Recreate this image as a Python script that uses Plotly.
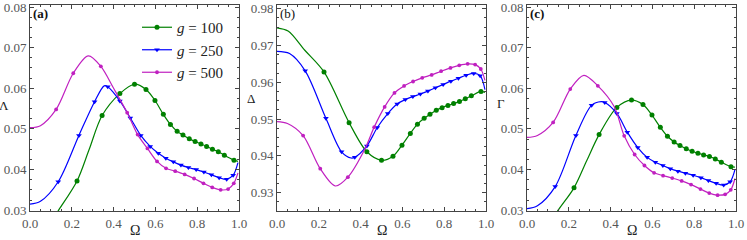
import plotly.graph_objects as go

# ---------------- data ----------------
G_LABELS = ["<i>g</i> = 100", "<i>g</i> = 250", "<i>g</i> = 500"]
COLORS = ["#008000", "#0000ff", "#c020c0"]
SYMBOLS = ["circle", "triangle-down", "circle"]
MSIZES = [5, 5, 3.8]

# marker abscissae (shared by the three panels)
MK_OMEGA_100 = [0.225, 0.345, 0.430, 0.500, 0.555, 0.598, 0.638, 0.672, 0.704, 0.732,
                0.762, 0.790, 0.818, 0.845, 0.873, 0.901, 0.930, 0.976]
MK_OMEGA_250 = [0.135, 0.234, 0.309, 0.372, 0.430, 0.480, 0.530, 0.575, 0.614, 0.650,
                0.686, 0.722, 0.758, 0.795, 0.832, 0.868, 0.905, 0.941, 0.972]
MK_OMEGA_500 = [0.125, 0.207, 0.339, 0.465, 0.515, 0.562, 0.608, 0.651, 0.695, 0.740,
                0.785, 0.830, 0.872, 0.912, 0.948, 0.975]

# panel (a): Lambda
A_MK_100 = [0.0372, 0.0533, 0.0587, 0.0610, 0.0597, 0.0570, 0.0536, 0.0511, 0.0494, 0.0485,
            0.0476, 0.0469, 0.0463, 0.0457, 0.0450, 0.0444, 0.0435, 0.0423]
A_MK_250 = [0.0370, 0.0484, 0.0567, 0.0604, 0.0569, 0.0527, 0.0484, 0.0457, 0.0440, 0.0428,
            0.0419, 0.0411, 0.0405, 0.0400, 0.0394, 0.0387, 0.0380, 0.0376, 0.0386]
A_MK_500 = [0.0548, 0.0637, 0.0654, 0.0540, 0.0486, 0.0452, 0.0420, 0.0403, 0.0396, 0.0388,
            0.0378, 0.0366, 0.0356, 0.0350, 0.0352, 0.0366]
A_EXTRA_100 = ([0.100, 0.137, 0.282, 0.995], [0.0270, 0.0300, 0.0448, 0.0420])
A_EXTRA_250 = ([0.0, 0.05, 0.355, 0.995], [0.0315, 0.0322, 0.0606, 0.0417])
A_EXTRA_500 = ([0.0, 0.05, 0.279, 0.400, 0.995], [0.0503, 0.0508, 0.0680, 0.0600, 0.0392])

# panel (b): Delta
B_MK_100 = [0.9628, 0.9490, 0.9411, 0.9388, 0.9399, 0.9429, 0.9461, 0.9486, 0.9502, 0.9513,
            0.9524, 0.9531, 0.9537, 0.9542, 0.9548, 0.9555, 0.9563, 0.9575]
B_MK_250 = [0.9631, 0.9502, 0.9411, 0.9396, 0.9427, 0.9477, 0.9515, 0.9541, 0.9553, 0.9561,
            0.9568, 0.9576, 0.9585, 0.9594, 0.9603, 0.9611, 0.9619, 0.9624, 0.9618]
B_MK_500 = [0.9455, 0.9365, 0.9342, 0.9478, 0.9533, 0.9571, 0.9590, 0.9602, 0.9612, 0.9620,
            0.9630, 0.9639, 0.9646, 0.9650, 0.9648, 0.9636]
B_EXTRA_100 = ([0.0, 0.053, 0.133, 0.995], [0.9748, 0.9739, 0.9687, 0.9572])
B_EXTRA_250 = ([0.0, 0.06, 0.355, 0.995], [0.9684, 0.9678, 0.9394, 0.9580])
B_EXTRA_500 = ([0.0, 0.05, 0.280, 0.420, 0.995], [0.9493, 0.9488, 0.9318, 0.9418, 0.9605])

# panel (c): Gamma
C_MK_100 = [0.0355, 0.0486, 0.0553, 0.0571, 0.0560, 0.0534, 0.0504, 0.0482, 0.0468, 0.0459,
            0.0451, 0.0445, 0.0440, 0.0436, 0.0432, 0.0426, 0.0418, 0.0407]
C_MK_250 = [0.0358, 0.0484, 0.0558, 0.0565, 0.0538, 0.0492, 0.0454, 0.0430, 0.0418, 0.0410,
            0.0402, 0.0396, 0.0391, 0.0386, 0.0380, 0.0373, 0.0366, 0.0362, 0.0370]
C_MK_500 = [0.0516, 0.0598, 0.0606, 0.0483, 0.0437, 0.0410, 0.0392, 0.0385, 0.0379, 0.0372,
            0.0363, 0.0352, 0.0342, 0.0337, 0.0339, 0.0350]
C_EXTRA_100 = ([0.110, 0.149, 0.285, 0.995], [0.0268, 0.0300, 0.0421, 0.0406])
C_EXTRA_250 = ([0.0, 0.05, 0.355, 0.995], [0.0304, 0.0311, 0.0567, 0.0400])
C_EXTRA_500 = ([0.0, 0.05, 0.272, 0.417, 0.995], [0.0479, 0.0484, 0.0632, 0.0555, 0.0378])

X_TICKS = [0.0, 0.2, 0.4, 0.6, 0.8, 1.0]
Y_TICKS_AC = [0.03, 0.04, 0.05, 0.06, 0.07, 0.08]
Y_TICKS_B = [0.93, 0.94, 0.95, 0.96, 0.97, 0.98]
Y_TITLES = ["\u039b", "\u0394", "\u0393"]
PANEL_TAGS = ["<b>(a)</b>", "(b)", "<b>(c)</b>"]

MK_OMEGAS = [MK_OMEGA_100, MK_OMEGA_250, MK_OMEGA_500]
PANELS = [
    ([A_MK_100, A_MK_250, A_MK_500], [A_EXTRA_100, A_EXTRA_250, A_EXTRA_500]),
    ([B_MK_100, B_MK_250, B_MK_500], [B_EXTRA_100, B_EXTRA_250, B_EXTRA_500]),
    ([C_MK_100, C_MK_250, C_MK_500], [C_EXTRA_100, C_EXTRA_250, C_EXTRA_500]),
]

# ---------------- layout geometry ----------------
W, H = 747, 240
L, R, T, B = 30, 11, 5, 29
PW = W - L - R
PH = H - T - B
DOMAINS_PX = [(30, 239), (277, 486), (527, 736)]
YTITLE_PY = [105, 98, 103]


def px_x(x):
    return (x - L) / PW


def px_y(y):
    return (H - B - y) / PH


FONT = "Liberation Serif, Times New Roman, serif"
fig = go.Figure()

for p, (mk_vals, extras) in enumerate(PANELS):
    xa = "x" if p == 0 else f"x{p + 1}"
    ya = "y" if p == 0 else f"y{p + 1}"
    for s in range(3):
        mx = MK_OMEGAS[s]
        my = mk_vals[s]
        ex, ey = extras[s]
        pts = sorted(zip(list(mx) + list(ex), list(my) + list(ey)))
        lx = [a for a, _ in pts]
        ly = [b for _, b in pts]
        fig.add_trace(go.Scatter(x=lx, y=ly, mode="lines", xaxis=xa, yaxis=ya,
                                 line=dict(color=COLORS[s], width=1.2, shape="spline", smoothing=0.9),
                                 showlegend=False, hoverinfo="skip"))
        fig.add_trace(go.Scatter(x=mx, y=my, mode="markers", xaxis=xa, yaxis=ya,
                                 marker=dict(color=COLORS[s], symbol=SYMBOLS[s], size=MSIZES[s],
                                             line=dict(width=0)),
                                 showlegend=False, hoverinfo="skip"))

# legend entries
for s in range(3):
    fig.add_trace(go.Scatter(x=[None], y=[None], mode="lines+markers", name=G_LABELS[s],
                             line=dict(color=COLORS[s], width=1.2),
                             marker=dict(color=COLORS[s], symbol=SYMBOLS[s], size=MSIZES[s])))

axis_common = dict(showgrid=False, zeroline=False, showline=True, linecolor="#444",
                   linewidth=1, mirror="ticks", ticks="inside", ticklen=4, tickcolor="#444",
                   ticklabeloverflow="allow",
                   tickfont=dict(family=FONT, size=13, color="#555"))

layout = dict(width=W, height=H, margin=dict(l=L, r=R, t=T, b=B, autoexpand=False),
              paper_bgcolor="white", plot_bgcolor="white", showlegend=True,
              legend=dict(x=px_x(137), y=px_y(11), xanchor="left", yanchor="top",
                          bgcolor="rgba(0,0,0,0)", font=dict(family=FONT, size=15, color="#222"),
                          itemwidth=30, tracegroupgap=0))

annotations = []
for p in range(3):
    x0, x1 = DOMAINS_PX[p]
    xk = "xaxis" if p == 0 else f"xaxis{p + 1}"
    yk = "yaxis" if p == 0 else f"yaxis{p + 1}"
    ya_anchor = "x" if p == 0 else f"x{p + 1}"
    xa_anchor = "y" if p == 0 else f"y{p + 1}"
    layout[xk] = dict(axis_common, domain=[px_x(x0), px_x(x1)], range=[0, 1],
                      tickvals=X_TICKS, tickformat=".1f", anchor=xa_anchor,
                      minor=dict(dtick=0.05, ticks="inside", ticklen=2, tickcolor="#444"))
    if p == 1:
        layout[yk] = dict(axis_common, domain=[0, 1], range=[0.925, 0.981],
                          tickvals=Y_TICKS_B, tickformat=".2f", anchor=ya_anchor,
                          minor=dict(tick0=0.93, dtick=0.0025, ticks="inside", ticklen=2, tickcolor="#444"))
    else:
        layout[yk] = dict(axis_common, domain=[0, 1], range=[0.0298, 0.0805],
                          tickvals=Y_TICKS_AC, tickformat=".2f", anchor=ya_anchor,
                          minor=dict(tick0=0.03, dtick=0.0025, ticks="inside", ticklen=2, tickcolor="#444"))
    # x title
    annotations.append(dict(x=px_x((x0 + x1) / 2), y=px_y(230), xref="paper", yref="paper",
                            text="\u03a9", showarrow=False, xanchor="center", yanchor="middle",
                            font=dict(family=FONT, size=14, color="#222")))
    # y title
    annotations.append(dict(x=px_x(x0 - 26), y=px_y(YTITLE_PY[p]), xref="paper", yref="paper",
                            text=Y_TITLES[p], showarrow=False, xanchor="center", yanchor="middle",
                            font=dict(family=FONT, size=13, color="#222")))
    # panel tag
    annotations.append(dict(x=px_x(x0 + 1), y=px_y(14), xref="paper", yref="paper",
                            text=PANEL_TAGS[p], showarrow=False, xanchor="left", yanchor="middle",
                            font=dict(family=FONT, size=13, color="#111")))

layout["annotations"] = annotations
fig.update_layout(**layout)
fig.write_html("out.html", config={"displayModeBar": False},
               post_script="document.body.style.margin='0px';document.body.style.overflow='hidden';")
